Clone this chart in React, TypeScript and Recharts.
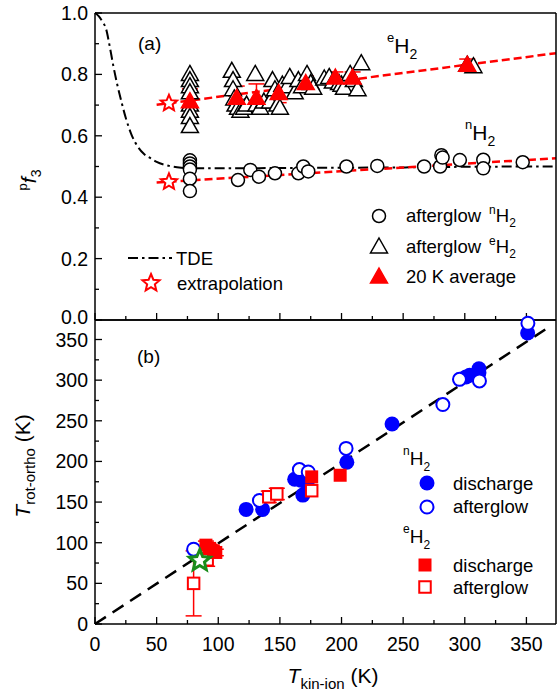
import React from "react";
import { ComposedChart, Scatter, Line, XAxis, YAxis, ErrorBar } from "recharts";

const FONT = "'Liberation Sans', Arial, sans-serif";
const W = 557;
const H = 693;

// ---- panel (a): pf3 vs T ----
const tdeT = [0, 3, 6, 9, 12, 15, 18, 21, 25, 30, 35, 40, 45, 50, 60, 70, 80, 100, 150, 200, 250, 300, 374];
const tdeF = [1.0, 0.99, 0.972, 0.948, 0.89, 0.825, 0.768, 0.718, 0.658, 0.6, 0.563, 0.54, 0.527, 0.515, 0.502, 0.496, 0.494, 0.494, 0.495, 0.496, 0.497, 0.499, 0.5];

const nAftT = [77, 77, 77, 77, 77, 77, 116, 126, 133, 146, 165, 169, 173, 204, 229, 267, 280, 281, 282, 296, 315, 315, 347];
const nAftF = [0.52, 0.51, 0.5, 0.49, 0.46, 0.42, 0.456, 0.489, 0.467, 0.478, 0.478, 0.5, 0.484, 0.5, 0.502, 0.5, 0.5, 0.537, 0.529, 0.521, 0.522, 0.494, 0.514];

const eAftT = [77, 77, 77, 77, 77, 77, 77, 77, 111, 112, 112, 113, 114, 116, 118, 121, 123, 130, 131, 134, 137, 142, 144, 146, 148, 150, 152, 156, 158, 162, 165, 168, 172, 175, 177, 186, 190, 193, 198, 200, 202, 207, 210, 213, 216, 302, 307];
const eAftF = [0.8, 0.78, 0.76, 0.74, 0.7, 0.68, 0.66, 0.63, 0.81, 0.78, 0.75, 0.72, 0.7, 0.69, 0.68, 0.69, 0.7, 0.8, 0.7, 0.69, 0.71, 0.71, 0.78, 0.75, 0.7, 0.69, 0.765, 0.76, 0.79, 0.74, 0.78, 0.76, 0.8, 0.77, 0.755, 0.785, 0.79, 0.775, 0.77, 0.765, 0.755, 0.8, 0.78, 0.75, 0.835, 0.83, 0.825];

const avgT = [77, 115, 131, 149, 171, 195, 209, 302];
const avgF = [0.711, 0.722, 0.722, 0.738, 0.77, 0.788, 0.788, 0.83];
const avgErr = [0.042, 0.04, 0.047, 0.03, 0.025, 0.02, 0.02, 0.02];

const extrT = [60, 60];
const extrF = [0.706, 0.45];

const fitET = [50, 374];
const fitEF = [0.701, 0.869];
const fitNT = [50, 374];
const fitNF = [0.448, 0.527];

// ---- panel (b): T rot-ortho vs T kin-ion ----
const nDisT = [122.6, 136, 162, 167, 168.6, 172, 204.3, 241, 301, 304, 311.5, 311.5, 351];
const nDisV = [141, 141, 178, 177, 158.6, 173, 199, 246, 304, 306, 314, 309, 358];
const nAgT = [80, 133.4, 165.8, 173, 203.7, 282.2, 295.7, 311.9, 351.2];
const nAgV = [92, 152, 190, 187, 216, 270, 301, 299, 370];
const eDisT = [90, 93, 96, 98, 175.8, 198.9];
const eDisV = [97, 93, 90, 88, 181, 183];
const eDisErr = [5, 5, 4, 4, 0, 0];
const eAgT = [80, 91, 141, 147.5, 175.8];
const eAgV = [50, 79, 156.5, 160, 164];
const eAgErr = [40, 8, 7, 7, 0];
const greenT = [85];
const greenV = [78];
const diagT = [0, 368];
const diagV = [0, 365];

const xTicks = [0, 25, 50, 75, 100, 125, 150, 175, 200, 225, 250, 275, 300, 325, 350];
const fTicks = [0, 0.1, 0.2, 0.3, 0.4, 0.5, 0.6, 0.7, 0.8, 0.9, 1.0];

const zip = (xs: number[], ys: number[], es?: number[]) =>
  xs.map((x, i) => (es ? { x, y: ys[i], err: es[i] } : { x, y: ys[i] }));

// ---- marker shapes ----
const starPath = (cx: number, cy: number, R: number) => {
  const pts: string[] = [];
  for (let i = 0; i < 10; i++) {
    const r = i % 2 === 0 ? R : R * 0.45;
    const a = -Math.PI / 2 + (i * Math.PI) / 5;
    pts.push(`${(cx + r * Math.cos(a)).toFixed(2)},${(cy + r * Math.sin(a)).toFixed(2)}`);
  }
  return "M" + pts.join("L") + "Z";
};

const OpenCircle = (stroke: string, r: number, sw: number) => (p: any) => (
  <circle cx={p.cx} cy={p.cy} r={r} fill="#fff" stroke={stroke} strokeWidth={sw} />
);
const FilledCircle = (fill: string, r: number) => (p: any) => <circle cx={p.cx} cy={p.cy} r={r} fill={fill} />;
const Tri = (fill: string, stroke: string) => (p: any) => (
  <path
    d={`M${p.cx},${p.cy - 9}L${p.cx + 8.5},${p.cy + 6}L${p.cx - 8.5},${p.cy + 6}Z`}
    fill={fill}
    stroke={stroke}
    strokeWidth={1.5}
    strokeLinejoin="miter"
  />
);
const Square = (fill: string, stroke: string, s: number, sw: number) => (p: any) => (
  <rect x={p.cx - s / 2} y={p.cy - s / 2} width={s} height={s} fill={fill} stroke={stroke} strokeWidth={sw} />
);
const Star = (stroke: string, R: number, sw: number) => (p: any) => (
  <path d={starPath(p.cx, p.cy, R)} fill="#fff" stroke={stroke} strokeWidth={sw} strokeLinejoin="miter" />
);

// inward ticks, labels only on majors; lift = shift of the label at value 0 (keeps 0.0 clear of 350)
function makeTick(
  side: "bottom" | "top" | "left" | "right",
  isMajor: (v: number) => boolean,
  label?: (v: number) => string,
  lift = 0
) {
  return (props: any) => {
    const { x, y, payload } = props;
    const v = payload.value;
    const major = isMajor(v);
    const len = major ? 7 : 4;
    let line;
    if (side === "bottom") line = <line x1={x} x2={x} y1={y} y2={y - len} />;
    else if (side === "top") line = <line x1={x} x2={x} y1={y} y2={y + len} />;
    else if (side === "left") line = <line x1={x} x2={x + len} y1={y} y2={y} />;
    else line = <line x1={x} x2={x - len} y1={y} y2={y} />;
    return (
      <g stroke="#000" strokeWidth={1.3}>
        {line}
        {label && major && side === "bottom" && (
          <text x={x} y={y + 27} textAnchor="middle" fontSize={19.5} fontFamily={FONT} fill="#000" stroke="none">
            {label(v)}
          </text>
        )}
        {label && major && side === "left" && (
          <text x={x - 7} y={y + 7 - (v === 0 ? lift : 0)} textAnchor="end" fontSize={19.5} fontFamily={FONT} fill="#000" stroke="none">
            {label(v)}
          </text>
        )}
      </g>
    );
  };
}

const axisLine = { stroke: "#000", strokeWidth: 1.5 };
const isMajor50 = (v: number) => Math.round(v) % 50 === 0;
const isMajorF = (v: number) => Math.round(v * 10) % 2 === 0;

// axes get a 1px footprint (a zero-size axis is not drawn), margins make up the difference
function PanelA() {
  return (
    <ComposedChart width={W} height={330} margin={{ top: 12, right: 0, bottom: 9, left: 94 }}>
      <XAxis type="number" dataKey="x" domain={[0, 374]} ticks={xTicks} interval={0} height={1} tickSize={0} tickMargin={0} tickLine={false} axisLine={axisLine} tick={makeTick("bottom", isMajor50)} />
      <XAxis xAxisId="top" orientation="top" type="number" domain={[0, 374]} ticks={xTicks} interval={0} height={1} tickSize={0} tickMargin={0} tickLine={false} axisLine={axisLine} tick={makeTick("top", isMajor50)} />
      <YAxis type="number" dataKey="y" domain={[0, 1]} ticks={fTicks} interval={0} width={1} tickSize={0} tickMargin={0} tickLine={false} axisLine={axisLine} tick={makeTick("left", isMajorF, (v) => v.toFixed(1), 3)} />
      <YAxis yAxisId="right" orientation="right" type="number" domain={[0, 1]} ticks={fTicks} interval={0} width={1} tickSize={0} tickMargin={0} tickLine={false} axisLine={axisLine} tick={makeTick("right", isMajorF)} />
      <Line data={zip(tdeT, tdeF)} dataKey="y" type="monotone" stroke="#000" strokeWidth={2} strokeDasharray="10 4 2.5 4" dot={false} activeDot={false} isAnimationActive={false} />
      <Scatter data={zip(nAftT, nAftF)} shape={OpenCircle("#000", 6.5, 1.5)} isAnimationActive={false} />
      <Line data={zip(fitNT, fitNF)} dataKey="y" type="linear" stroke="#f00" strokeWidth={2.5} strokeDasharray="8 4" dot={false} activeDot={false} isAnimationActive={false} />
      <Scatter data={zip(eAftT, eAftF)} shape={Tri("#fff", "#000")} isAnimationActive={false} />
      <Line data={zip(fitET, fitEF)} dataKey="y" type="linear" stroke="#f00" strokeWidth={2.5} strokeDasharray="8 4" dot={false} activeDot={false} isAnimationActive={false} />
      <Scatter data={zip(avgT, avgF, avgErr)} shape={Tri("#f00", "#f00")} isAnimationActive={false}>
        <ErrorBar dataKey="err" direction="y" width={8} stroke="#f00" strokeWidth={1.5} />
      </Scatter>
      <Scatter data={zip(extrT, extrF)} shape={Star("#f00", 8.5, 2)} isAnimationActive={false} />
    </ComposedChart>
  );
}

function PanelB() {
  return (
    <ComposedChart width={W} height={H} margin={{ top: 319, right: 0, bottom: 68, left: 94 }}>
      <XAxis type="number" dataKey="x" domain={[0, 374]} ticks={xTicks} interval={0} height={1} tickSize={0} tickMargin={0} tickLine={false} axisLine={axisLine} tick={makeTick("bottom", isMajor50, (v) => String(v))} />
      <XAxis xAxisId="top" orientation="top" type="number" domain={[0, 374]} ticks={xTicks} interval={0} height={1} tickSize={0} tickMargin={0} tickLine={false} axisLine={axisLine} tick={makeTick("top", isMajor50)} />
      <YAxis type="number" dataKey="y" domain={[0, 374]} ticks={xTicks} interval={0} width={1} tickSize={0} tickMargin={0} tickLine={false} axisLine={axisLine} tick={makeTick("left", isMajor50, (v) => String(v))} />
      <YAxis yAxisId="right" orientation="right" type="number" domain={[0, 374]} ticks={xTicks} interval={0} width={1} tickSize={0} tickMargin={0} tickLine={false} axisLine={axisLine} tick={makeTick("right", isMajor50)} />
      <Line data={zip(diagT, diagV)} dataKey="y" type="linear" stroke="#000" strokeWidth={2.5} strokeDasharray="13 8" dot={false} activeDot={false} isAnimationActive={false} />
      <Scatter data={zip(nDisT, nDisV)} shape={FilledCircle("#0000ff", 7.5)} isAnimationActive={false} />
      <Scatter data={zip(nAgT, nAgV)} shape={OpenCircle("#0000ff", 6.5, 2)} isAnimationActive={false} />
      <Scatter data={zip(eAgT, eAgV, eAgErr)} shape={Square("#fff", "#f00", 11.5, 2)} isAnimationActive={false}>
        <ErrorBar dataKey="err" direction="y" width={8} stroke="#f00" strokeWidth={1.5} />
      </Scatter>
      <Scatter data={zip(eDisT, eDisV, eDisErr)} shape={Square("#f00", "#f00", 13, 0)} isAnimationActive={false}>
        <ErrorBar dataKey="err" direction="y" width={8} stroke="#f00" strokeWidth={1.5} />
      </Scatter>
      <Scatter data={zip(greenT, greenV)} shape={Star("#1a8c1a", 11, 3)} isAnimationActive={false} />
    </ComposedChart>
  );
}

function Overlay() {
  const txt = { fontFamily: FONT, fill: "#000" };
  return (
    <svg width={W} height={H} style={{ position: "absolute", left: 0, top: 0, pointerEvents: "none" }}>
      <g {...txt} fontSize={18.5}>
        {/* panel (a) labels */}
        <text x={138} y={50} fontSize={19}>(a)</text>
        <text x={387} y={53} fontSize={21}>
          <tspan fontSize={13} dy={-11}>e</tspan>
          <tspan dy={11}>H</tspan>
          <tspan fontSize={14} dy={6}>2</tspan>
        </text>
        <text x={465} y={140} fontSize={21}>
          <tspan fontSize={13} dy={-11}>n</tspan>
          <tspan dy={11}>H</tspan>
          <tspan fontSize={14} dy={6}>2</tspan>
        </text>
        <line x1={128} x2={172} y1={258} y2={258} stroke="#000" strokeWidth={2} strokeDasharray="10 4 2.5 4" />
        <text x={176} y={265}>TDE</text>
        {Star("#f00", 9, 2)({ cx: 151, cy: 283 })}
        <text x={177} y={290}>extrapolation</text>
        {OpenCircle("#000", 6.5, 1.5)({ cx: 379, cy: 216 })}
        <text x={406} y={222}>
          afterglow
          <tspan dx={8} dy={-8} fontSize={12}>n</tspan>
          <tspan dy={8}>H</tspan>
          <tspan dy={5} fontSize={12}>2</tspan>
        </text>
        {Tri("#fff", "#000")({ cx: 379, cy: 247 })}
        <text x={406} y={253}>
          afterglow
          <tspan dx={8} dy={-8} fontSize={12}>e</tspan>
          <tspan dy={8}>H</tspan>
          <tspan dy={5} fontSize={12}>2</tspan>
        </text>
        {Tri("#f00", "#f00")({ cx: 379, cy: 277 })}
        <text x={406} y={283}>20 K average</text>

        {/* panel (b) labels */}
        <text x={137} y={363} fontSize={19}>(b)</text>
        <text x={403} y={465} fontSize={19}>
          <tspan fontSize={12} dy={-10}>n</tspan>
          <tspan dy={10}>H</tspan>
          <tspan fontSize={12} dy={6}>2</tspan>
        </text>
        {FilledCircle("#0000ff", 7.5)({ cx: 427, cy: 483 })}
        <text x={453} y={490}>discharge</text>
        {OpenCircle("#0000ff", 6.5, 2)({ cx: 427, cy: 507 })}
        <text x={453} y={513}>afterglow</text>
        <text x={403} y={543} fontSize={19}>
          <tspan fontSize={12} dy={-10}>e</tspan>
          <tspan dy={10}>H</tspan>
          <tspan fontSize={12} dy={6}>2</tspan>
        </text>
        {Square("#f00", "#f00", 13, 0)({ cx: 425, cy: 565 })}
        <text x={453} y={572}>discharge</text>
        {Square("#fff", "#f00", 11.5, 2)({ cx: 425, cy: 587 })}
        <text x={453} y={594}>afterglow</text>

        {/* axis titles */}
        <text transform="translate(36,180) rotate(-90)" textAnchor="middle" fontSize={21}>
          <tspan fontSize={13} dy={-9}>p</tspan>
          <tspan fontStyle="italic" dy={9}>f</tspan>
          <tspan fontSize={14} dy={5}>3</tspan>
        </text>
        <text transform="translate(30,466) rotate(-90)" textAnchor="middle" fontSize={21}>
          <tspan fontStyle="italic">T</tspan>
          <tspan fontSize={15} dy={5}>rot-ortho</tspan>
          <tspan dy={-5}> (K)</tspan>
        </text>
        <text x={333} y={683} textAnchor="middle" fontSize={21}>
          <tspan fontStyle="italic">T</tspan>
          <tspan fontSize={15} dy={6}>kin-ion</tspan>
          <tspan dy={-6}> (K)</tspan>
        </text>
      </g>
    </svg>
  );
}

export default function App() {
  return (
    <div style={{ position: "absolute", left: 0, top: 0, width: W, height: H, background: "#fff", fontFamily: FONT }}>
      <div style={{ position: "absolute", left: 0, top: 0 }}>
        <PanelA />
      </div>
      <div style={{ position: "absolute", left: 0, top: 0 }}>
        <PanelB />
      </div>
      <Overlay />
    </div>
  );
}
